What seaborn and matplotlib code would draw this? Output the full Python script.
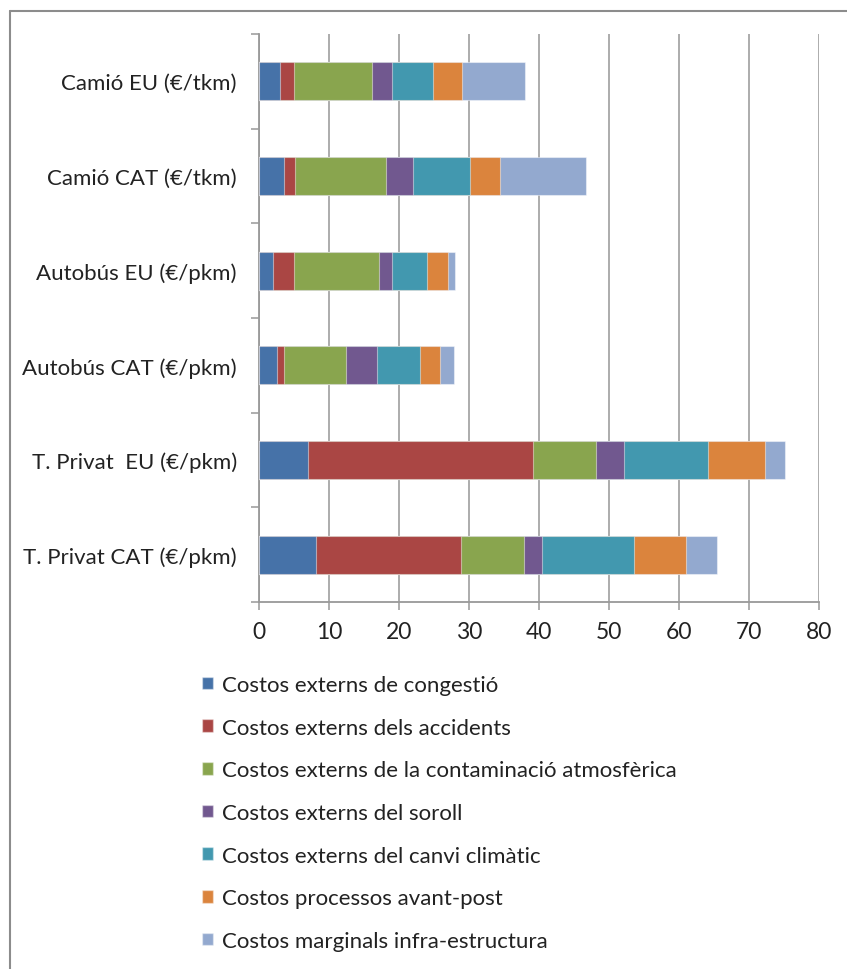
import matplotlib
matplotlib.use("Agg")
import matplotlib.pyplot as plt
from matplotlib.patches import Patch
from matplotlib.lines import Line2D
import numpy as np
import pandas as pd
import seaborn as sns

# Transport modes (top to bottom) and the external cost components
modes = [
    "Camió EU (€/tkm)",
    "Camió CAT (€/tkm)",
    "Autobús EU (€/pkm)",
    "Autobús CAT (€/pkm)",
    "T. Privat  EU (€/pkm)",
    "T. Privat CAT (€/pkm)",
]
components = [
    "Costos externs de congestió",
    "Costos externs dels accidents",
    "Costos externs de la contaminació atmosfèrica",
    "Costos externs del soroll",
    "Costos externs del canvi climàtic",
    "Costos processos avant-post",
    "Costos marginals infra-estructura",
]
congestio = [3.0, 3.5, 2.0, 2.5, 7.0, 8.2]
accidents = [2.0, 1.7, 3.0, 1.0, 32.1, 20.7]
contaminacio = [11.1, 12.9, 12.1, 8.9, 9.1, 8.9]
soroll = [2.9, 3.9, 1.9, 4.5, 4.0, 2.6]
canvi_climatic = [5.9, 8.1, 5.0, 6.1, 11.9, 13.1]
avant_post = [4.1, 4.3, 3.0, 2.8, 8.2, 7.5]
infraestructura = [9.0, 12.3, 1.0, 2.1, 2.9, 4.4]
x_ticks = [0, 10, 20, 30, 40, 50, 60, 70, 80]

colors = ["#4672A8", "#AA4644", "#89A54E", "#71588F", "#4298AF", "#DB843D", "#93A9CF"]

series = [congestio, accidents, contaminacio, soroll, canvi_climatic, avant_post, infraestructura]
df = pd.DataFrame(dict(zip(components, series)), index=modes)
cum = df.cumsum(axis=1)

sns.set_theme(style="white")
plt.rcParams["font.family"] = ["Lato", "DejaVu Sans"]

fig = plt.figure(figsize=(8.47, 9.70), dpi=100)
W, H = 847, 970
ax = fig.add_axes([259 / W, 1 - 603 / H, (819 - 259) / W, (603 - 35) / H])

# Stacked bars: draw the running totals from the outermost segment inwards
for comp, col in reversed(list(zip(components, colors))):
    sns.barplot(
        x=cum[comp].values, y=modes, orient="h", color=col,
        width=0.4, saturation=1, ax=ax,
        edgecolor=(1, 1, 1, 0.45), linewidth=0.8, zorder=3,
    )

ax.set_xlim(0, 80)
ax.set_ylim(len(modes) - 0.5, -0.5)
ax.set_xticks(x_ticks)
ax.set_xticklabels([str(t) for t in x_ticks], fontsize=16.5, color="#222222")
ax.set_xlabel("")
ax.set_ylabel("")

# Category labels centred, tick marks on the category boundaries
ax.set_yticks(range(len(modes)))
ax.set_yticklabels(modes, fontsize=16, color="#222222")
ax.set_yticks(np.arange(-0.5, len(modes), 1.0), minor=True)
ax.tick_params(axis="y", which="major", length=0, pad=16)
ax.tick_params(axis="y", which="minor", length=6, width=1.1, color="#999999", direction="out", left=True)
ax.tick_params(axis="x", which="major", length=6, width=1.1, color="#999999", direction="out", bottom=True, pad=8)

ax.grid(axis="x", color="#a6a6a6", linewidth=1.3, zorder=0)
ax.grid(axis="y", visible=False)
ax.set_axisbelow(True)
for side in ["top", "right"]:
    ax.spines[side].set_visible(False)
for side in ["left", "bottom"]:
    ax.spines[side].set_color("#999999")
    ax.spines[side].set_linewidth(1.3)

# Chart frame (left and top edges)
fig.add_artist(Line2D([10 / W, 10 / W], [0, 1 - 12 / H], transform=fig.transFigure, color="#8c8c8c", linewidth=1.5))
fig.add_artist(Line2D([10 / W, 1], [1 - 12 / H, 1 - 12 / H], transform=fig.transFigure, color="#8c8c8c", linewidth=1.5))

handles = [Patch(facecolor=c, edgecolor=(1, 1, 1, 0.4), label=l) for c, l in zip(colors, components)]
fig.legend(
    handles=handles, loc="upper left", bbox_to_anchor=(202 / W, 1 - 676 / H),
    frameon=False, fontsize=16, handlelength=0.5, handleheight=0.5,
    handletextpad=0.4, labelspacing=1.02, borderaxespad=0, borderpad=0,
    labelcolor="#222222",
)

fig.savefig("out.png", dpi=100)
